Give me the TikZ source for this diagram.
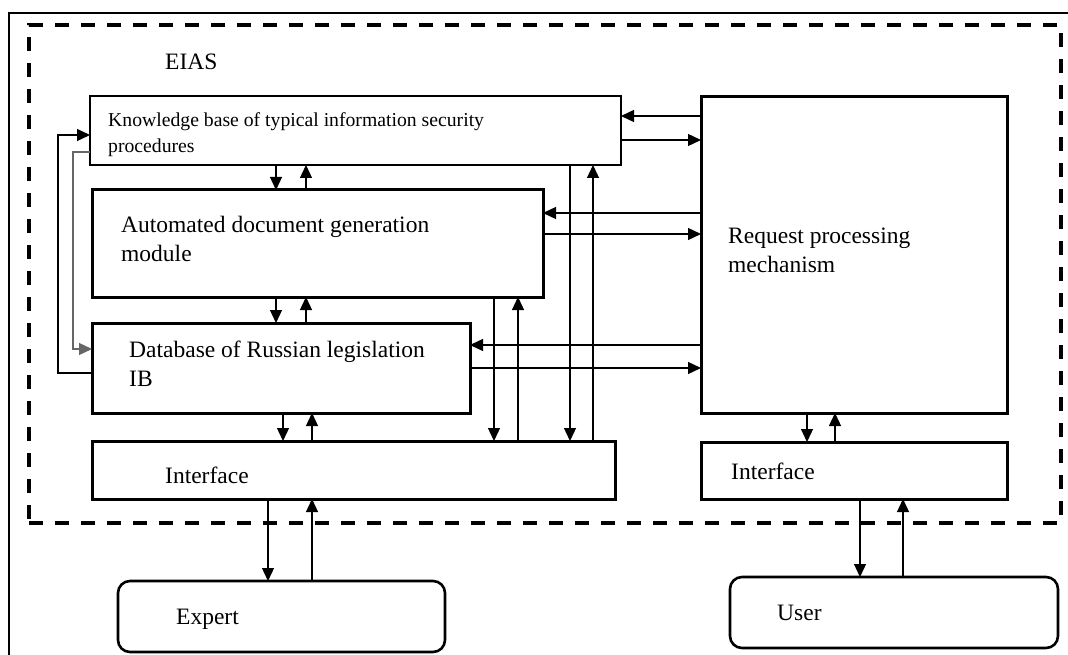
\documentclass[tikz,border=0pt]{standalone}
\usepackage{fontspec}
\setmainfont{Liberation Serif}
\usetikzlibrary{arrows.meta}
\newcommand*{\bigtext}{\fontsize{23.5}{28.5}\selectfont}
\newcommand*{\smalltext}{\fontsize{19.7}{26}\selectfont}
\tikzset{
    block/.style={draw, rectangle, line width=3pt, anchor=north west, inner sep=0pt, outer sep=0pt},
    kbblock/.style={block, line width=2.2pt},
    person/.style={block, line width=2.6pt, rounded corners=12pt},
    boundary/.style={block, line width=4pt, dash pattern=on 14pt off 12pt},
    txt/.style={anchor=base west, inner sep=0pt, align=left, font=\bigtext},
    link/.style={line width=1.3pt, -{Triangle[length=13pt,width=12pt]}},
}

\begin{document}
\begin{tikzpicture}[x=1pt, y=-1pt]
    \useasboundingbox (0,0) rectangle (1068,655);
    % outer frame
    \draw[line width=1.4pt] (1068,13) -- (9,13) -- (9,655);
    % EIAS boundary
    \node[boundary, minimum width=1032, minimum height=498] (eias) at (29,25) {};
    \node[txt] (eiaslabel) at (165,70) {EIAS};
    % blocks
    \node[kbblock, minimum width=531, minimum height=69] (kb) at (90,96) {};
    \node[block, minimum width=451, minimum height=107] (adg) at (92,190) {};
    \node[block, minimum width=378, minimum height=90] (db) at (92,323) {};
    \node[block, minimum width=523, minimum height=58] (ifl) at (92,441) {};
    \node[block, minimum width=306, minimum height=316] (rpm) at (701,97) {};
    \node[block, minimum width=306, minimum height=57] (ifr) at (701,442) {};
    \node[person, minimum width=327, minimum height=71] (expert) at (118,581) {};
    \node[person, minimum width=328, minimum height=71] (user) at (730,577) {};
    % block texts (base is the last line)
    \node[txt, font=\smalltext] (kblabel) at (108,153) {Knowledge base of typical information security\\procedures};
    \node[txt] (adglabel) at (121,261) {Automated document generation\\module};
    \node[txt] (dblabel) at (129,386) {Database of Russian legislation\\IB};
    \node[txt] (ifllabel) at (165,483) {Interface};
    \node[txt] (rpmlabel) at (728,272) {Request processing\\mechanism};
    \node[txt] (ifrlabel) at (731,479) {Interface};
    \node[txt] (expertlabel) at (176,624) {Expert};
    \node[txt] (userlabel) at (777,620) {User};
    % short vertical links, left column
    \draw[link] (kb.south -| 276,0) -- (adg.north -| 276,0);
    \draw[link] (adg.north -| 306,0) -- (kb.south -| 306,0);
    \draw[link] (adg.south -| 276,0) -- (db.north -| 276,0);
    \draw[link] (db.north -| 306,0) -- (adg.south -| 306,0);
    \draw[link] (db.south -| 283,0) -- (ifl.north -| 283,0);
    \draw[link] (ifl.north -| 312,0) -- (db.south -| 312,0);
    \draw[link] (ifl.south -| 268,0) -- (expert.north -| 268,0);
    \draw[link] (expert.north -| 312,0) -- (ifl.south -| 312,0);
    % short vertical links, right column
    \draw[link] (rpm.south -| 807,0) -- (ifr.north -| 807,0);
    \draw[link] (ifr.north -| 835,0) -- (rpm.south -| 835,0);
    \draw[link] (ifr.south -| 860,0) -- (user.north -| 860,0);
    \draw[link] (user.north -| 903,0) -- (ifr.south -| 903,0);
    % long vertical links to interface
    \draw[link] (adg.south -| 494,0) -- (ifl.north -| 494,0);
    \draw[link] (ifl.north -| 518,0) -- (adg.south -| 518,0);
    \draw[link] (kb.south -| 570,0) -- (ifl.north -| 570,0);
    \draw[link] (ifl.north -| 593,0) -- (kb.south -| 593,0);
    % links to request processing
    \draw[link] (rpm.west |- 0,116) -- (kb.east |- 0,116);
    \draw[link] (kb.east |- 0,140) -- (rpm.west |- 0,140);
    \draw[link] (rpm.west |- 0,213) -- (adg.east |- 0,213);
    \draw[link] (adg.east |- 0,234) -- (rpm.west |- 0,234);
    \draw[link] (rpm.west |- 0,345) -- (db.east |- 0,345);
    \draw[link] (db.east |- 0,368) -- (rpm.west |- 0,368);
    % loops on the left
    \draw[link] (db.west |- 0,373) -- (58,373) -- (58,135) -- (kb.west |- 0,135);
    \draw[link, black!60] (kb.west |- 0,152) -- (73,152) -- (73,349) -- (db.west |- 0,349);
\end{tikzpicture}
\end{document}
